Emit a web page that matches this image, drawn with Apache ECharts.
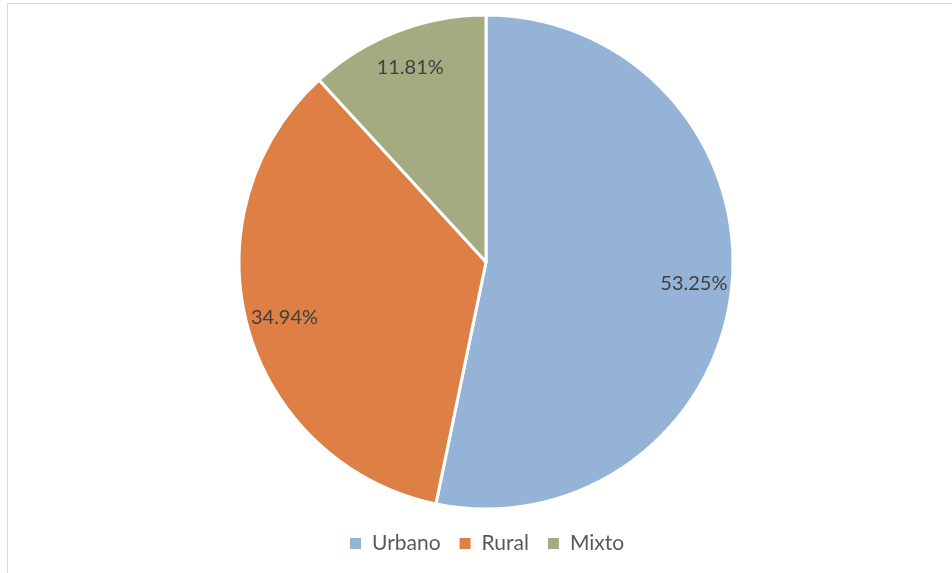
<!DOCTYPE html>
<html>
<head>
<meta charset="utf-8">
<script src="https://cdn.jsdelivr.net/npm/echarts@6/dist/echarts.min.js"></script>
<style>
  html, body { margin: 0; padding: 0; background: #fff; }
  #frame {
    position: absolute;
    left: 7px;
    top: 3px;
    width: 960px;
    height: 600px;
    border-left: 1px solid #d9d9d9;
    border-top: 1px solid #d9d9d9;
  }
  #chart { position: absolute; left: 0; top: 0; width: 952px; height: 573px; }
</style>
</head>
<body>
<div id="frame"></div>
<div id="chart"></div>
<script>
  const categories = ['Urbano', 'Rural', 'Mixto'] // tipos de zona
  const shares = [53.25, 34.94, 11.81] // porcentaje
  const colors = ['#95B3D7', '#DE7F46', '#A4AB80']

  const chart = echarts.init(document.getElementById('chart'))
  const pieData = categories.map((name, i) => ({ name: name, value: shares[i] }))

  chart.setOption({
    color: colors,
    legend: {
      bottom: 14,
      left: 343,
      icon: 'rect',
      itemWidth: 13,
      itemHeight: 13,
      itemGap: 17,
      textStyle: {
        fontFamily: 'Lato',
        fontSize: 21,
        color: '#595959',
        padding: [0, 0, 0, 5]
      },
      data: categories
    },
    series: [{
      name: 'zona',
      type: 'pie',
      center: [486, 262],
      radius: [0, 247],
      startAngle: 90,
      clockwise: true,
      label: { show: false },
      labelLine: { show: false },
      itemStyle: {
        borderColor: '#ffffff',
        borderWidth: 3
      },
      emphasis: { disabled: true },
      data: pieData
    }, {
      // serie transparente solo para colocar las etiquetas
      name: 'etiquetas',
      type: 'pie',
      center: [486, 262],
      radius: [165, 247],
      startAngle: 90,
      silent: true,
      itemStyle: { color: 'rgba(0,0,0,0)' },
      label: {
        show: true,
        position: 'inside',
        fontFamily: 'Lato',
        fontSize: 20,
        color: '#404040',
        formatter(p) {
          return p.value.toFixed(2) + '%'
        }
      },
      labelLine: { show: false },
      emphasis: { disabled: true },
      data: pieData
    }]
  })
</script>
</body>
</html>
